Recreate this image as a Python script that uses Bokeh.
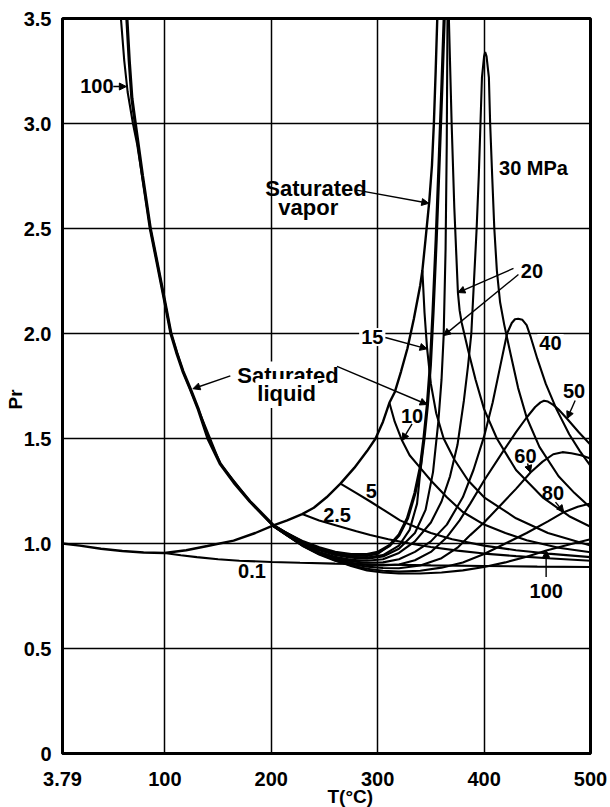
from bokeh.plotting import figure
from bokeh.models import FixedTicker, Label, Arrow, NormalHead, Range1d, Title
from bokeh.embed import file_html
from bokeh.resources import INLINE

# ---------------- data ----------------
x_ticks = [3.79, 100, 200, 300, 400, 500]
x_tick_labels = ["3.79", "100", "200", "300", "400", "500"]
y_ticks = [0, 0.5, 1.0, 1.5, 2.0, 2.5, 3.0, 3.5]
y_tick_labels = ["0", "0.5", "1.0", "1.5", "2.0", "2.5", "3.0", "3.5"]
x_grid = [100, 200, 300, 400]
y_grid = [0.5, 1.0, 1.5, 2.0, 2.5, 3.0]

sat_liquid_T = [64.3, 66.5, 69.0, 72.2, 79.0, 86.3, 93.0, 99.7, 105.7, 111.0, 117.0, 124.0, 131.0,
                140.5, 152.0, 165.0, 180.0, 202.0, 215.0, 230.0, 245.0, 260.0, 275.0, 290.0, 300.0,
                311.0, 320.0, 328.0, 335.0, 340.0, 343.5, 346.7, 349.5, 352.0, 355.0, 358.0, 360.5, 362.5]
sat_liquid_Pr = [3.5, 3.3, 3.12, 3.0, 2.75, 2.5, 2.33, 2.157, 2.0, 1.91, 1.82, 1.735, 1.645,
                 1.5, 1.38, 1.29, 1.2, 1.086, 1.045, 1.008, 0.98, 0.958, 0.947, 0.947, 0.958,
                 0.99, 1.04, 1.12, 1.24, 1.36, 1.5, 1.66, 1.85, 2.1, 2.45, 2.85, 3.2, 3.5]

sat_vapor_T = [3.79, 20, 40, 60, 80, 99.6, 120, 140, 164.6, 185, 202, 215, 229, 240, 252, 265, 278,
               290, 298, 305, 311, 316, 322, 328, 334, 340, 342, 345, 348.5, 351, 352.8, 354.5, 356]
sat_vapor_Pr = [1.0, 0.99, 0.975, 0.964, 0.957, 0.955, 0.968, 0.988, 1.014, 1.05, 1.086, 1.11, 1.14,
                1.17, 1.22, 1.285, 1.36, 1.44, 1.5, 1.58, 1.67, 1.72, 1.82, 1.93, 2.07, 2.23, 2.3,
                2.45, 2.63, 2.8, 3.0, 3.25, 3.5]

p01_vap_T = [99.6, 115, 130, 150, 170, 200, 227, 260, 300, 350, 400, 450, 500]
p01_vap_Pr = [0.955, 0.944, 0.935, 0.925, 0.918, 0.912, 0.908, 0.904, 0.9, 0.896, 0.893, 0.89, 0.888]

p25_vap_T = [229, 245, 262, 280, 293, 310, 330, 350, 375, 400, 430, 460, 500]
p25_vap_Pr = [1.14, 1.11, 1.085, 1.058, 1.04, 1.02, 1.0, 0.983, 0.966, 0.952, 0.94, 0.93, 0.918]

p5_vap_T = [265, 280, 293, 307, 321, 335, 350, 370, 400, 430, 460, 500]
p5_vap_Pr = [1.285, 1.24, 1.2, 1.155, 1.11, 1.08, 1.05, 1.02, 0.99, 0.968, 0.952, 0.935]

p10_vap_T = [311, 316, 322.9, 330, 340, 350, 365, 380, 400, 420, 440, 470, 500]
p10_vap_Pr = [1.67, 1.58, 1.49, 1.42, 1.36, 1.3, 1.22, 1.15, 1.09, 1.05, 1.015, 0.98, 0.958]

p15_vap_T = [342, 344, 346.4, 350, 355, 362, 372, 385, 400, 430, 460, 500]
p15_vap_Pr = [2.3, 2.1, 1.93, 1.76, 1.62, 1.5, 1.4, 1.3, 1.22, 1.12, 1.05, 0.99]

p20_vap_T = [366.9, 369.5, 372, 375.4, 377, 379, 385, 392, 400, 412, 430, 455, 480, 500]
p20_vap_Pr = [3.5, 3.0, 2.6, 2.195, 2.11, 2.05, 1.92, 1.78, 1.64, 1.5, 1.35, 1.22, 1.13, 1.08]

p10_liq_T = [202, 230, 245, 260, 275, 290, 300, 311]
p10_liq_Pr = [1.086, 1.007, 0.977, 0.954, 0.943, 0.941, 0.951, 0.99]

p15_liq_T = [202, 230, 245, 260, 275, 290, 305, 320, 330, 337, 342]
p15_liq_Pr = [1.086, 1.004, 0.973, 0.949, 0.937, 0.933, 0.945, 0.99, 1.065, 1.19, 1.44]

p20_liq_T = [202, 230, 245, 260, 275, 290, 305, 320, 335, 345, 352, 357, 360, 362, 363.8, 364.9, 365.6]
p20_liq_Pr = [1.086, 1.0, 0.968, 0.945, 0.932, 0.928, 0.938, 0.975, 1.05, 1.16, 1.34, 1.58, 1.78,
              1.99, 2.4, 2.9, 3.5]

p30_T = [202, 230, 245, 260, 275, 290, 305, 320, 335, 350, 360, 368, 375, 381, 385, 388, 390.5, 393,
         395, 396.6, 398, 400, 401, 402.3, 404.5, 405.7, 407.6, 409.6, 412, 415, 419, 425, 432, 440,
         452, 470, 485, 500]
p30_Pr = [1.086, 0.995, 0.96, 0.937, 0.922, 0.918, 0.925, 0.955, 1.01, 1.1, 1.2, 1.32, 1.47, 1.68,
          1.85, 2.0, 2.25, 2.5, 2.75, 3.0, 3.22, 3.32, 3.34, 3.32, 3.22, 3.0, 2.75, 2.5, 2.3, 2.15,
          2.04, 1.9, 1.74, 1.6, 1.46, 1.32, 1.24, 1.17]

p40_T = [202, 230, 245, 260, 275, 290, 305, 320, 335, 350, 365, 380, 390, 400, 408, 415, 421.6, 426,
         429, 432, 436, 440, 444, 450, 458, 468, 480, 490, 500]
p40_Pr = [1.085, 0.993, 0.957, 0.932, 0.915, 0.908, 0.91, 0.925, 0.96, 1.01, 1.09, 1.22, 1.35, 1.51,
          1.67, 1.84, 2.0, 2.05, 2.068, 2.07, 2.065, 2.04, 1.98, 1.88, 1.76, 1.64, 1.52, 1.44, 1.37]

p50_T = [202, 230, 245, 260, 275, 290, 305, 320, 335, 350, 365, 377, 387, 400, 418, 430, 440, 448,
         453, 456.3, 460, 465, 470, 478, 489, 500]
p50_Pr = [1.084, 0.99, 0.953, 0.927, 0.908, 0.898, 0.895, 0.9, 0.92, 0.96, 1.03, 1.11, 1.19, 1.3,
          1.44, 1.53, 1.6, 1.65, 1.672, 1.68, 1.676, 1.66, 1.638, 1.594, 1.53, 1.47]

p60_T = [202, 230, 245, 260, 275, 290, 305, 320, 340, 360, 375, 387, 400, 415, 430, 443.6, 455, 465,
         473.6, 482, 491, 500]
p60_Pr = [1.083, 0.988, 0.95, 0.922, 0.902, 0.89, 0.883, 0.882, 0.895, 0.93, 0.98, 1.04, 1.1, 1.18,
          1.26, 1.338, 1.39, 1.425, 1.435, 1.43, 1.42, 1.405]

p80_T = [202, 230, 245, 260, 275, 290, 305, 320, 340, 360, 380, 400, 420, 440, 460, 474.9, 488, 500]
p80_Pr = [1.083, 0.986, 0.947, 0.918, 0.896, 0.88, 0.87, 0.866, 0.87, 0.885, 0.91, 0.95, 1.0, 1.05,
          1.105, 1.149, 1.175, 1.19]

p100_T = [58.7, 61.8, 65.0, 70.0, 74.0, 78.0, 86.3, 93.0, 99.7, 105.7, 117.0, 131.0, 152.0, 180.0,
          202.0, 215, 230, 245, 260, 275, 290, 305, 320, 340, 360, 380, 400, 420, 440, 458.5, 480, 500]
p100_Pr = [3.5, 3.3, 3.15, 3.0, 2.9, 2.77, 2.5, 2.33, 2.157, 2.0, 1.82, 1.645, 1.38, 1.2,
           1.082, 1.038, 0.99, 0.952, 0.92, 0.893, 0.872, 0.862, 0.857, 0.857, 0.862, 0.872, 0.888,
           0.91, 0.937, 0.967, 0.995, 1.02]

# annotation texts and their anchor points (T, Pr)
label_texts = ["100", "30 MPa", "20", "15", "40", "50", "10", "60", "5", "80", "2.5", "0.1", "100"]
label_T = [36.1, 446.4, 445.0, 294.9, 462.4, 484.5, 332.3, 438.9, 293.9, 464.7, 261.8, 181.9, 458.4]
label_Pr = [3.179, 2.788, 2.298, 1.983, 1.955, 1.726, 1.606, 1.419, 1.249, 1.240, 1.137, 0.868, 0.772]
label_bg = [False, False, False, True, True, False, False, False, False, False, False, False, False]

sat_texts = ["Saturated", "vapor", "Saturated", "liquid"]
sat_T = [194.4, 206.6, 166.2, 185.0]
sat_Pr = [2.689, 2.601, 1.798, 1.714]
sat_bg = [False, False, True, True]

arrow_T0 = [51.5, 279.0, 161.5, 261.8, 307.2, 427.6, 432.3, 485.6, 440.8, 467.1, 332.3, 458.3]
arrow_Pr0 = [3.176, 2.684, 1.798, 1.843, 1.981, 2.31, 2.281, 1.681, 1.381, 1.197, 1.570, 0.840]
arrow_T1 = [63.8, 348.0, 126.4, 346.5, 346.4, 375.4, 362.0, 478.1, 443.6, 474.9, 322.9, 458.3]
arrow_Pr1 = [3.176, 2.62, 1.737, 1.662, 1.927, 2.195, 1.99, 1.595, 1.338, 1.149, 1.49, 0.967]

axis_x_title = "T(°C)"
axis_y_title = "Pr"

# ---------------- figure ----------------
FONT = "Liberation Sans"

p = figure(width=610, height=807, output_backend="svg", toolbar_location=None,
           x_range=Range1d(3.79, 500), y_range=Range1d(0, 3.5),
           min_border_left=62, min_border_right=20, min_border_top=18, min_border_bottom=54)
p.background_fill_color = "white"
p.border_fill_color = "white"
p.outline_line_color = "black"
p.outline_line_width = 3

for ax in (p.xaxis[0], p.yaxis[0]):
    ax.axis_line_color = "black"
    ax.axis_line_width = 3
    ax.major_tick_line_color = None
    ax.minor_tick_line_color = None
    ax.major_label_text_font = FONT
    ax.major_label_text_font_style = "bold"
    ax.major_label_text_font_size = "20px"
    ax.major_label_text_color = "black"

p.xaxis.ticker = FixedTicker(ticks=x_ticks)
p.xaxis.major_label_overrides = {t: s for t, s in zip(x_ticks, x_tick_labels)}
p.xaxis.major_label_standoff = 12
p.yaxis.ticker = FixedTicker(ticks=y_ticks)
p.yaxis.major_label_overrides = {t: s for t, s in zip(y_ticks, y_tick_labels)}
p.yaxis.major_label_standoff = 5

p.xgrid.ticker = FixedTicker(ticks=x_grid)
p.ygrid.ticker = FixedTicker(ticks=y_grid)
for g in (p.xgrid[0], p.ygrid[0]):
    g.grid_line_color = "black"
    g.grid_line_width = 1.5
    g.grid_line_alpha = 1.0

curves = [
    (sat_vapor_T, sat_vapor_Pr, 2.4),
    (p01_vap_T, p01_vap_Pr, 2.1),
    (p25_vap_T, p25_vap_Pr, 2.1),
    (p5_vap_T, p5_vap_Pr, 2.1),
    (p10_vap_T, p10_vap_Pr, 2.1),
    (p15_vap_T, p15_vap_Pr, 2.1),
    (p20_vap_T, p20_vap_Pr, 2.1),
    (p10_liq_T, p10_liq_Pr, 2.1),
    (p15_liq_T, p15_liq_Pr, 2.1),
    (p20_liq_T, p20_liq_Pr, 2.1),
    (p30_T, p30_Pr, 2.1),
    (p40_T, p40_Pr, 2.1),
    (p50_T, p50_Pr, 2.1),
    (p60_T, p60_Pr, 2.1),
    (p80_T, p80_Pr, 2.1),
    (p100_T, p100_Pr, 2.1),
    (sat_liquid_T, sat_liquid_Pr, 3.2),
]
for xs, ys, w in curves:
    p.line(xs, ys, line_color="black", line_width=w)

for t, x, y, bg in zip(label_texts, label_T, label_Pr, label_bg):
    lab = Label(x=x, y=y, text=t, text_align="center", text_baseline="middle",
                text_font=FONT, text_font_style="bold", text_font_size="20px", text_color="black")
    if bg:
        lab.background_fill_color = "white"
        lab.padding = 2
    p.add_layout(lab)

for t, x, y, bg in zip(sat_texts, sat_T, sat_Pr, sat_bg):
    lab = Label(x=x, y=y, text=t, text_align="left", text_baseline="alphabetic",
                text_font=FONT, text_font_style="bold", text_font_size="22px", text_color="black")
    if bg:
        lab.background_fill_color = "white"
        lab.padding = 2
    p.add_layout(lab)

for x0, y0, x1, y1 in zip(arrow_T0, arrow_Pr0, arrow_T1, arrow_Pr1):
    p.add_layout(Arrow(x_start=x0, y_start=y0, x_end=x1, y_end=y1, line_width=1.4, line_color="black",
                       end=NormalHead(size=7, fill_color="black", line_color="black", line_width=1)))

p.add_layout(Title(text=axis_x_title, align="left", offset=265, standoff=-9,
                   text_font=FONT, text_font_style="bold", text_font_size="19px",
                   text_color="black"), "below")
p.add_layout(Title(text=axis_y_title, align="left", offset=344, standoff=-10,
                   text_font=FONT, text_font_style="bold", text_font_size="19px",
                   text_color="black"), "left")

open("out.html", "w").write(file_html(p, INLINE))
